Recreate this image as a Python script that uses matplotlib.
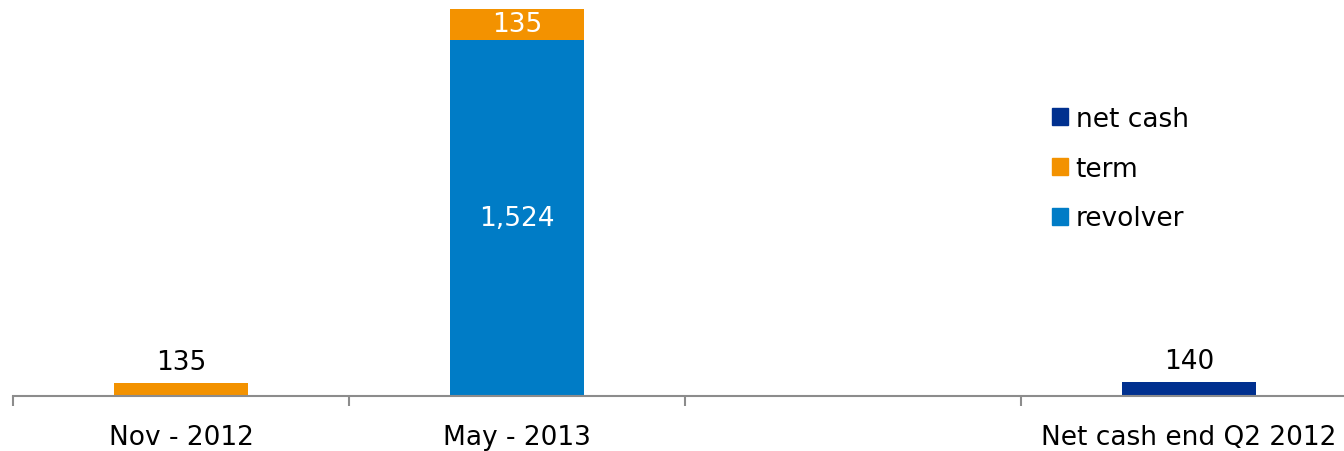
import numpy as np
import matplotlib
matplotlib.use("Agg")
import matplotlib.pyplot as plt
from matplotlib.patches import Patch

# data
categories = ["Nov - 2012", "May - 2013", "", "Net cash end Q2 2012"]
revolver = [0, 1524, 0, 0]
term = [55, 135, 0, 0]        # drawn heights (Nov bar is drawn short in the original)
net_cash = [0, 0, 0, 60]
term_labels = ["135", "135", "", ""]
revolver_labels = ["", "1,524", "", ""]
net_cash_labels = ["", "", "", "140"]

c_rev = "#007CC6"
c_term = "#F39200"
c_net = "#00308F"

plt.rcParams['font.family'] = ['DejaVu Sans']
fs = 19

fig = plt.figure(figsize=(13.44, 4.52), dpi=100)
ax = fig.add_axes([13/1344, 55/452, 1344/1344, 397/452])

x = np.arange(len(categories))
w = 0.4
ax.bar(x, revolver, w, color=c_rev, label="revolver")
ax.bar(x, term, w, bottom=revolver, color=c_term, label="term")
ax.bar(x, net_cash, w, bottom=np.array(revolver) + np.array(term), color=c_net, label="net cash")

for i in x:
    if revolver_labels[i]:
        ax.text(i, revolver[i] / 2, revolver_labels[i], ha="center", va="center", color="white", fontsize=fs)
    if term_labels[i]:
        if revolver[i] > 0:
            ax.text(i, revolver[i] + term[i] / 2, term_labels[i], ha="center", va="center", color="white", fontsize=fs)
        else:
            ax.text(i, term[i] + 35, term_labels[i], ha="center", va="bottom", color="black", fontsize=fs)
    if net_cash_labels[i]:
        ax.text(i, net_cash[i] + 35, net_cash_labels[i], ha="center", va="bottom", color="black", fontsize=fs)

ax.set_xlim(-0.5, len(categories) - 0.5)
ax.set_ylim(0, 1700)
for s in ["top", "right", "left"]:
    ax.spines[s].set_visible(False)
ax.spines["bottom"].set_color("#8C8C8C")
ax.spines["bottom"].set_linewidth(1.5)
ax.set_yticks([])
ax.set_xticks(x)
ax.set_xticklabels(categories, fontsize=fs)
ax.tick_params(axis="x", length=0, pad=20)
ax.set_xticks(np.arange(len(categories) + 1) - 0.5, minor=True)
ax.tick_params(axis="x", which="minor", length=7, width=1.5, color="#8C8C8C", direction="out")

handles = [Patch(color=c_net), Patch(color=c_term), Patch(color=c_rev)]
ax.legend(handles, ["net cash", "term", "revolver"], loc="upper left",
          bbox_to_anchor=(1052/1344, 1 - 107/452), bbox_transform=fig.transFigure,
          frameon=False, fontsize=fs, borderpad=0, borderaxespad=0,
          handlelength=0.6, handleheight=0.6, handletextpad=0.3, labelspacing=0.9)

fig.savefig("out.png", dpi=100)
